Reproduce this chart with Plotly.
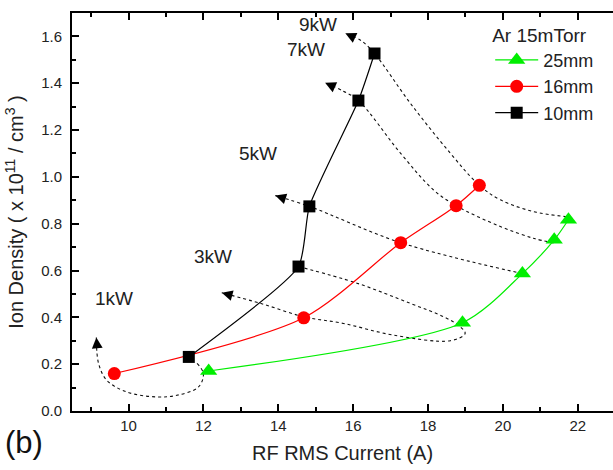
import plotly.graph_objects as go

# ---- data ----
x_25 = [12.14, 18.92, 20.52, 21.37, 21.75]
y_25 = [0.171, 0.377, 0.587, 0.731, 0.817]
x_16 = [9.62, 14.68, 17.27, 18.75, 19.37]
y_16 = [0.160, 0.398, 0.719, 0.877, 0.964]
x_10 = [11.61, 14.54, 14.83, 16.14, 16.57]
y_10 = [0.231, 0.617, 0.874, 1.326, 1.527]

power_labels = ["1kW", "3kW", "5kW", "7kW", "9kW"]
label_x = [9.60, 12.25, 13.46, 14.73, 15.07]
label_y = [0.480, 0.662, 1.099, 1.543, 1.650]

# dotted guide paths (constant-power lines), ending at the arrow tip
guide_1kW_x = [11.83, 12.00, 11.87, 11.29, 10.76, 9.96, 9.42, 9.20, 9.14]
guide_1kW_y = [0.203, 0.160, 0.103, 0.067, 0.060, 0.081, 0.131, 0.203, 0.314]
guide_3kW_x = [14.54, 16.10, 17.52, 18.41, 18.86, 18.99, 18.59, 17.08, 15.74, 14.67, 13.52, 12.49]
guide_3kW_y = [0.617, 0.546, 0.460, 0.403, 0.360, 0.331, 0.300, 0.324, 0.374, 0.403, 0.460, 0.505]
guide_5kW_x = [20.52, 17.27, 14.83, 13.92]
guide_5kW_y = [0.587, 0.719, 0.874, 0.920]
guide_7kW_x = [21.35, 20.81, 19.93, 18.75, 18.14, 17.26, 16.14, 15.74, 15.25]
guide_7kW_y = [0.718, 0.738, 0.788, 0.877, 0.945, 1.102, 1.326, 1.366, 1.402]
guide_9kW_x = [21.70, 20.81, 19.93, 19.37, 18.59, 17.52, 16.57, 16.23, 15.79]
guide_9kW_y = [0.830, 0.852, 0.902, 0.964, 1.102, 1.316, 1.527, 1.580, 1.613]

x_range = [8.49, 22.94]
y_range = [0, 1.7]

FONT = "Arial, Liberation Sans, Helvetica, sans-serif"
TXT = "#222222"

fig = go.Figure()

guides = [(guide_1kW_x, guide_1kW_y), (guide_3kW_x, guide_3kW_y),
          (guide_5kW_x, guide_5kW_y), (guide_7kW_x, guide_7kW_y),
          (guide_9kW_x, guide_9kW_y)]
for gx, gy in guides:
    fig.add_trace(go.Scatter(x=gx, y=gy, mode="lines",
                             line=dict(color="#111111", width=1.1, dash="dot",
                                       shape="spline", smoothing=1.0),
                             showlegend=False, hoverinfo="skip"))

series = [
    ("25mm", x_25, y_25, "#00ee00", "triangle-up", 15, 0.8),
    ("16mm", x_16, y_16, "#ff0000", "circle", 13, 0.8),
    ("10mm", x_10, y_10, "#000000", "square", 12, 0.55),
]
for name, xs, ys, col, sym, sz, sm in series:
    fig.add_trace(go.Scatter(x=xs, y=ys, name=name, mode="lines+markers",
                             line=dict(color=col, width=1.2, shape="spline", smoothing=sm),
                             marker=dict(symbol=sym, size=sz, color=col,
                                         line=dict(width=0))))

# arrow heads at the guide tips
for gx, gy in guides:
    tx, ty = gx[-1], gy[-1]
    px, py = gx[-2], gy[-2]
    fig.add_annotation(x=tx, y=ty, ax=tx + 0.25 * (px - tx), ay=ty + 0.25 * (py - ty),
                       xref="x", yref="y", axref="x", ayref="y", text="",
                       showarrow=True, arrowhead=2, arrowsize=1.8, arrowwidth=1.2,
                       arrowcolor="#000000")

for t, lx, ly in zip(power_labels, label_x, label_y):
    fig.add_annotation(x=lx, y=ly, text=t, showarrow=False, xref="x", yref="y",
                       font=dict(family=FONT, size=19, color=TXT))

fig.add_annotation(x=-0.089, y=-0.08, xref="paper", yref="paper", text="(b)",
                   showarrow=False, xanchor="center", yanchor="middle",
                   font=dict(family=FONT, size=31, color="#111111"))

fig.update_layout(
    width=613, height=470,
    margin=dict(l=72, r=0, t=13, b=59, autoexpand=False),
    paper_bgcolor="white", plot_bgcolor="white",
    font=dict(family=FONT, color=TXT),
    legend=dict(title=dict(text="Ar 15mTorr", font=dict(size=19, family=FONT, color=TXT)),
                x=0.773, y=0.99, xanchor="left", yanchor="top",
                bgcolor="rgba(0,0,0,0)", font=dict(size=18, family=FONT, color=TXT),
                tracegroupgap=0, itemwidth=43),
)
fig.update_xaxes(range=x_range, showgrid=False, zeroline=False, automargin=False,
                 showline=True, linewidth=2, linecolor="black", mirror="allticks",
                 ticks="inside", ticklen=7, tickwidth=1.5, tickcolor="black",
                 tick0=10, dtick=2,
                 minor=dict(ticks="inside", ticklen=4, tickwidth=1.5, dtick=1, tick0=10,
                            tickcolor="black"),
                 tickfont=dict(size=15, family=FONT, color=TXT),
                 title=dict(text="RF RMS Current (A)", standoff=13,
                            font=dict(size=20, family=FONT, color=TXT)))
fig.update_yaxes(range=y_range, showgrid=False, zeroline=False, automargin=False,
                 showline=True, linewidth=2, linecolor="black",
                 ticks="inside", ticklen=7, tickwidth=1.5, tickcolor="black",
                 tick0=0, dtick=0.2, tickformat=".1f", ticklabelstandoff=5,
                 minor=dict(ticks="inside", ticklen=4, tickwidth=1.5, dtick=0.1,
                            tickcolor="black"),
                 tickfont=dict(size=15, family=FONT, color=TXT),
                 title=dict(text="Ion Density ( x 10<sup>11</sup> / cm<sup>3</sup> )",
                            standoff=12, font=dict(size=20, family=FONT, color=TXT)))

fig.write_html("out.html", config={"displayModeBar": False},
               post_script="document.body.style.margin='0px';")
